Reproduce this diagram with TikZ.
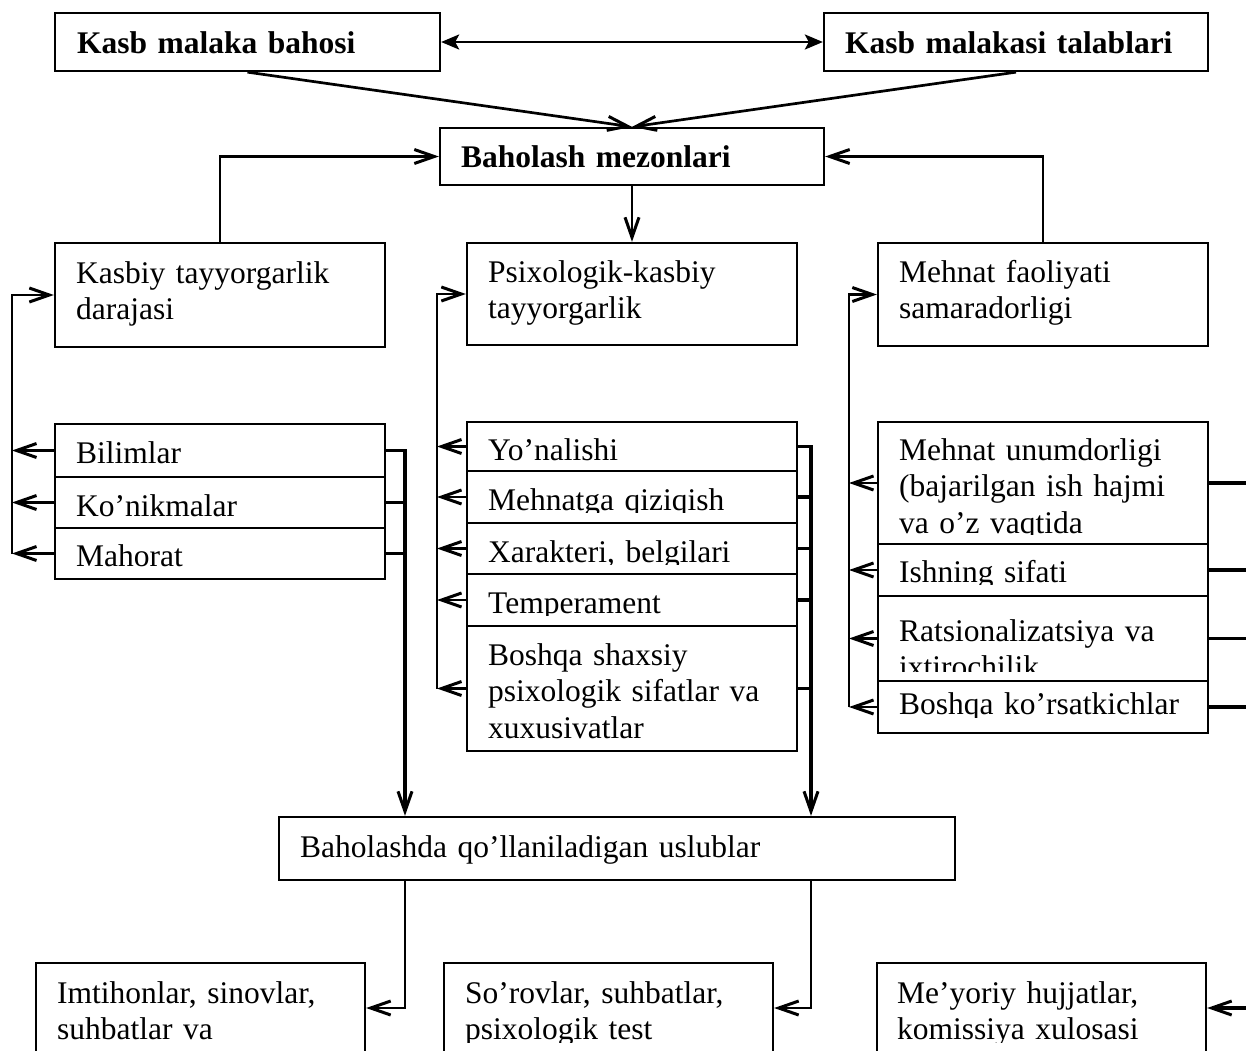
\documentclass[tikz,border=0pt]{standalone}
\usepackage{fontspec}
\setmainfont{Liberation Serif}
\usetikzlibrary{arrows.meta,fit}
\tikzset{
  >={Straight Barb[length=20pt,width=14pt,line width=3pt]},
  box/.style={draw, line width=2.3pt, inner sep=0pt},
  conn/.style={line width=2.7pt},
  coll/.style={line width=3.4pt},
  txt/.style={inner sep=0pt, anchor=base west, text width=480pt, align=left,
    font=\fontsize{31.5}{36.5}\selectfont},
  btxt/.style={txt, font=\fontsize{31.5}{36.5}\selectfont\bfseries}
}
% #1 row node, #2 clip bottom y, #3 text node name, #4 position, #5 text
\newcommand\cliptext[5]{%
  \begin{scope}
    \coordinate (cb) at (0,#2);
    \clip (#1.north west) rectangle (#1.east |- cb);
    \node[txt] (#3) at (#4) {#5};
  \end{scope}}
\begin{document}
\begin{tikzpicture}[x=1pt,y=-1pt]
\useasboundingbox (0,0) rectangle (1246,1050);
\clip (0,0) rectangle (1246,1050);

% collector coordinates
\coordinate (kl) at (12,0);
\coordinate (pl) at (437,0);
\coordinate (ml) at (849,0);
\coordinate (kr) at (405,0);
\coordinate (pr) at (811,0);
\coordinate (mr) at (1262,0);

% top boxes
\node[box, fit={(55,13)(440,71)}] (A) {};
\node[box, fit={(824,13)(1208,71)}] (B) {};
\node[box, fit={(440,128)(824,185)}] (C) {};
\node[btxt] (tA) at (77,53) {Kasb malaka bahosi};
\node[btxt] (tB) at (845,53) {Kasb malakasi talablari};
\node[btxt] (tC) at (461,167) {Baholash mezonlari};

% second level
\node[box, fit={(55,243)(385,347)}] (K) {};
\node[box, fit={(467,243)(797,345)}] (P) {};
\node[box, fit={(878,243)(1208,346)}] (M) {};
\node[txt] (tK) at (76,283) {Kasbiy tayyorgarlik\\darajasi};
\node[txt] (tP) at (488,282) {Psixologik-kasbiy\\tayyorgarlik};
\node[txt] (tM) at (899,282) {Mehnat faoliyati\\samaradorligi};

% stack K
\node[box, fit={(55,424)(385,477)}] (K1) {};
\node[box, fit={(55,477)(385,528)}] (K2) {};
\node[box, fit={(55,528)(385,579)}] (K3) {};
\cliptext{K1}{477}{tK1}{76,463}{Bilimlar}
\cliptext{K2}{528}{tK2}{76,516}{Ko’nikmalar}
\cliptext{K3}{579}{tK3}{76,566}{Mahorat}

% stack P
\node[box, fit={(467,422)(797,471)}] (P1) {};
\node[box, fit={(467,471)(797,523)}] (P2) {};
\node[box, fit={(467,523)(797,574)}] (P3) {};
\node[box, fit={(467,574)(797,626)}] (P4) {};
\node[box, fit={(467,626)(797,751)}] (P5) {};
\cliptext{P1}{471}{tP1}{488,460}{Yo’nalishi}
\cliptext{P2}{512}{tP2}{488,510}{Mehnatga qiziqish}
\cliptext{P3}{564}{tP3}{488,562}{Xarakteri, belgilari}
\cliptext{P4}{615}{tP4}{488,613}{Temperament}
\cliptext{P5}{751}{tP5}{488,665}{Boshqa shaxsiy\\psixologik sifatlar va\\xuxusivatlar}

% stack M
\node[box, fit={(878,422)(1208,544)}] (M1) {};
\node[box, fit={(878,544)(1208,596)}] (M2) {};
\node[box, fit={(878,596)(1208,681)}] (M3) {};
\node[box, fit={(878,681)(1208,733)}] (M4) {};
\cliptext{M1}{534}{tM1}{899,460}{Mehnat unumdorligi\\(bajarilgan ish hajmi\\va o’z vaqtida}
\cliptext{M2}{584}{tM2}{899,582}{Ishning sifati}
\cliptext{M3}{671}{tM3}{899,641}{Ratsionalizatsiya va\\ixtirochilik}
\cliptext{M4}{717}{tM4}{899,714}{Boshqa ko’rsatkichlar}

% methods
\node[box, fit={(279,817)(955,880)}] (U) {};
\node[txt] (tU) at (300,857) {Baholashda qo’llaniladigan uslublar};
\node[box, fit={(36,963)(365,1053)}] (I) {};
\node[box, fit={(444,963)(773,1053)}] (S) {};
\node[box, fit={(877,963)(1206,1053)}] (Y) {};
\cliptext{I}{1042}{tI}{57,1003}{Imtihonlar, sinovlar,\\suhbatlar va}
\cliptext{S}{1042}{tS}{465,1003}{So’rovlar, suhbatlar,\\psixologik test}
\cliptext{Y}{1042}{tY}{897,1003}{Me’yoriy hujjatlar,\\komissiya xulosasi}

% top connectors
\draw[conn, {Stealth[length=18pt,width=15pt,inset=4pt]}-{Stealth[length=18pt,width=15pt,inset=4pt]}] (A) -- (B);
\draw[conn, ->] (A.south) -- (C.north);
\draw[conn, ->] (B.south) -- (C.north);
\draw[conn, ->] (K.north) |- (C.west);
\draw[conn, ->] (M.north) |- (C.east);
\draw[conn, ->] (C.south) -- (P.north);

% K feedback
\foreach \r in {K1,K2,K3} \draw[conn, ->] (\r.west) -- (\r.west -| kl);
\draw[conn, ->] (K3.west -| kl) |- (K.west);
% P feedback
\foreach \r in {P1,P2,P3,P4,P5} \draw[conn, ->] (\r.west) -- (\r.west -| pl);
\draw[conn, ->] (P5.west -| pl) |- (P.west);
% M feedback
\foreach \r in {M1,M2,M3,M4} \draw[conn, ->] (\r.west) -- (\r.west -| ml);
\draw[conn, ->] (M4.west -| ml) |- (M.west);

% collectors to methods
\foreach \r in {K2,K3} \draw[coll] (\r.east) -- (\r.east -| kr);
\draw[coll, ->] (K1.east) -| (U.north -| kr);
\foreach \r in {P2,P3,P4,P5} \draw[coll] (\r.east) -- (\r.east -| pr);
\draw[coll, ->] (P1.east) -| (U.north -| pr);
\foreach \r in {M2,M3,M4} \draw[coll] (\r.east) -- (\r.east -| mr);
\draw[coll, ->] (M1.east) -| (mr |- Y.east) -- (Y.east);

% methods to instruments
\draw[conn, ->] (U.south -| kr) |- (I.east);
\draw[conn, ->] (U.south -| pr) |- (S.east);
\end{tikzpicture}
\end{document}
